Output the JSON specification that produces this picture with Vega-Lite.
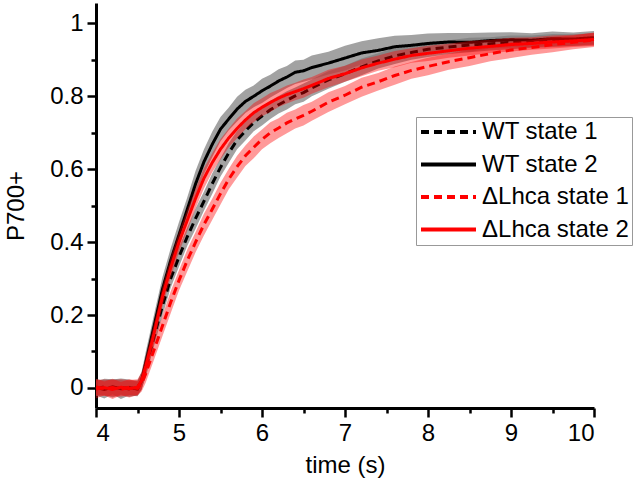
{
  "$schema": "https://vega.github.io/schema/vega-lite/v6.json",
  "width": 498,
  "height": 405,
  "autosize": {"type": "none"},
  "padding": {"left": 96, "top": 3, "right": 44, "bottom": 82},
  "background": "white",
  "config": {
    "view": {"stroke": null},
    "font": "Liberation Sans",
    "axis": {
      "domainColor": "black",
      "domainWidth": 3,
      "tickColor": "black",
      "tickWidth": 2.5,
      "labelColor": "black",
      "labelFont": "Liberation Sans",
      "labelFontSize": 24,
      "titleFont": "Liberation Sans",
      "titleFontSize": 24,
      "titleFontWeight": "normal",
      "titleColor": "black",
      "grid": false,
      "labelOverlap": false
    }
  },
  "data": {
    "values": [
      {"s": "WT state 2", "t": 4.0, "v": 0.002, "e": 0.022},
      {"s": "WT state 2", "t": 4.1, "v": -0.004, "e": 0.025},
      {"s": "WT state 2", "t": 4.2, "v": 0.003, "e": 0.02},
      {"s": "WT state 2", "t": 4.3, "v": -0.002, "e": 0.028},
      {"s": "WT state 2", "t": 4.4, "v": 0.001, "e": 0.022},
      {"s": "WT state 2", "t": 4.5, "v": -0.003, "e": 0.02},
      {"s": "WT state 2", "t": 4.55, "v": 0.02, "e": 0.025},
      {"s": "WT state 2", "t": 4.6, "v": 0.07, "e": 0.03},
      {"s": "WT state 2", "t": 4.7, "v": 0.17, "e": 0.032},
      {"s": "WT state 2", "t": 4.8, "v": 0.27, "e": 0.034},
      {"s": "WT state 2", "t": 4.9, "v": 0.35, "e": 0.033},
      {"s": "WT state 2", "t": 5.0, "v": 0.42, "e": 0.035},
      {"s": "WT state 2", "t": 5.1, "v": 0.49, "e": 0.033},
      {"s": "WT state 2", "t": 5.2, "v": 0.56, "e": 0.036},
      {"s": "WT state 2", "t": 5.3, "v": 0.62, "e": 0.034},
      {"s": "WT state 2", "t": 5.4, "v": 0.668, "e": 0.035},
      {"s": "WT state 2", "t": 5.5, "v": 0.71, "e": 0.033},
      {"s": "WT state 2", "t": 5.6, "v": 0.738, "e": 0.031},
      {"s": "WT state 2", "t": 5.7, "v": 0.765, "e": 0.034},
      {"s": "WT state 2", "t": 5.8, "v": 0.786, "e": 0.032},
      {"s": "WT state 2", "t": 5.9, "v": 0.8, "e": 0.03},
      {"s": "WT state 2", "t": 6.0, "v": 0.815, "e": 0.033},
      {"s": "WT state 2", "t": 6.1, "v": 0.828, "e": 0.031},
      {"s": "WT state 2", "t": 6.2, "v": 0.842, "e": 0.032},
      {"s": "WT state 2", "t": 6.3, "v": 0.853, "e": 0.03},
      {"s": "WT state 2", "t": 6.4, "v": 0.866, "e": 0.032},
      {"s": "WT state 2", "t": 6.5, "v": 0.87, "e": 0.03},
      {"s": "WT state 2", "t": 6.6, "v": 0.879, "e": 0.033},
      {"s": "WT state 2", "t": 6.8, "v": 0.891, "e": 0.031},
      {"s": "WT state 2", "t": 7.0, "v": 0.905, "e": 0.034},
      {"s": "WT state 2", "t": 7.2, "v": 0.919, "e": 0.032},
      {"s": "WT state 2", "t": 7.4, "v": 0.926, "e": 0.033},
      {"s": "WT state 2", "t": 7.6, "v": 0.936, "e": 0.03},
      {"s": "WT state 2", "t": 7.8, "v": 0.94, "e": 0.028},
      {"s": "WT state 2", "t": 8.0, "v": 0.945, "e": 0.027},
      {"s": "WT state 2", "t": 8.25, "v": 0.949, "e": 0.025},
      {"s": "WT state 2", "t": 8.5, "v": 0.948, "e": 0.026},
      {"s": "WT state 2", "t": 8.75, "v": 0.953, "e": 0.022},
      {"s": "WT state 2", "t": 9.0, "v": 0.955, "e": 0.021},
      {"s": "WT state 2", "t": 9.25, "v": 0.954, "e": 0.019},
      {"s": "WT state 2", "t": 9.5, "v": 0.958, "e": 0.02},
      {"s": "WT state 2", "t": 9.75, "v": 0.957, "e": 0.018},
      {"s": "WT state 2", "t": 10.0, "v": 0.961, "e": 0.018},

      {"s": "WT state 1", "t": 4.0, "v": -0.002, "e": 0.02},
      {"s": "WT state 1", "t": 4.1, "v": 0.003, "e": 0.022},
      {"s": "WT state 1", "t": 4.2, "v": -0.001, "e": 0.025},
      {"s": "WT state 1", "t": 4.3, "v": 0.002, "e": 0.02},
      {"s": "WT state 1", "t": 4.4, "v": -0.003, "e": 0.022},
      {"s": "WT state 1", "t": 4.5, "v": 0.001, "e": 0.02},
      {"s": "WT state 1", "t": 4.55, "v": 0.02, "e": 0.022},
      {"s": "WT state 1", "t": 4.6, "v": 0.055, "e": 0.025},
      {"s": "WT state 1", "t": 4.7, "v": 0.14, "e": 0.025},
      {"s": "WT state 1", "t": 4.8, "v": 0.225, "e": 0.027},
      {"s": "WT state 1", "t": 4.9, "v": 0.3, "e": 0.025},
      {"s": "WT state 1", "t": 5.0, "v": 0.36, "e": 0.027},
      {"s": "WT state 1", "t": 5.1, "v": 0.415, "e": 0.025},
      {"s": "WT state 1", "t": 5.2, "v": 0.465, "e": 0.028},
      {"s": "WT state 1", "t": 5.3, "v": 0.512, "e": 0.026},
      {"s": "WT state 1", "t": 5.4, "v": 0.56, "e": 0.028},
      {"s": "WT state 1", "t": 5.5, "v": 0.605, "e": 0.025},
      {"s": "WT state 1", "t": 5.6, "v": 0.645, "e": 0.027},
      {"s": "WT state 1", "t": 5.7, "v": 0.68, "e": 0.025},
      {"s": "WT state 1", "t": 5.8, "v": 0.705, "e": 0.026},
      {"s": "WT state 1", "t": 5.9, "v": 0.728, "e": 0.024},
      {"s": "WT state 1", "t": 6.0, "v": 0.746, "e": 0.026},
      {"s": "WT state 1", "t": 6.1, "v": 0.763, "e": 0.025},
      {"s": "WT state 1", "t": 6.2, "v": 0.777, "e": 0.024},
      {"s": "WT state 1", "t": 6.3, "v": 0.789, "e": 0.025},
      {"s": "WT state 1", "t": 6.4, "v": 0.801, "e": 0.023},
      {"s": "WT state 1", "t": 6.5, "v": 0.81, "e": 0.025},
      {"s": "WT state 1", "t": 6.6, "v": 0.823, "e": 0.023},
      {"s": "WT state 1", "t": 6.8, "v": 0.845, "e": 0.024},
      {"s": "WT state 1", "t": 7.0, "v": 0.862, "e": 0.022},
      {"s": "WT state 1", "t": 7.2, "v": 0.881, "e": 0.023},
      {"s": "WT state 1", "t": 7.4, "v": 0.897, "e": 0.021},
      {"s": "WT state 1", "t": 7.6, "v": 0.911, "e": 0.022},
      {"s": "WT state 1", "t": 7.8, "v": 0.92, "e": 0.02},
      {"s": "WT state 1", "t": 8.0, "v": 0.929, "e": 0.021},
      {"s": "WT state 1", "t": 8.25, "v": 0.935, "e": 0.019},
      {"s": "WT state 1", "t": 8.5, "v": 0.941, "e": 0.02},
      {"s": "WT state 1", "t": 8.75, "v": 0.944, "e": 0.018},
      {"s": "WT state 1", "t": 9.0, "v": 0.948, "e": 0.019},
      {"s": "WT state 1", "t": 9.25, "v": 0.95, "e": 0.017},
      {"s": "WT state 1", "t": 9.5, "v": 0.953, "e": 0.018},
      {"s": "WT state 1", "t": 9.75, "v": 0.954, "e": 0.016},
      {"s": "WT state 1", "t": 10.0, "v": 0.957, "e": 0.017},

      {"s": "ΔLhca state 1", "t": 4.0, "v": 0.003, "e": 0.022},
      {"s": "ΔLhca state 1", "t": 4.1, "v": -0.002, "e": 0.02},
      {"s": "ΔLhca state 1", "t": 4.2, "v": 0.001, "e": 0.024},
      {"s": "ΔLhca state 1", "t": 4.3, "v": -0.004, "e": 0.02},
      {"s": "ΔLhca state 1", "t": 4.4, "v": 0.002, "e": 0.022},
      {"s": "ΔLhca state 1", "t": 4.5, "v": -0.001, "e": 0.02},
      {"s": "ΔLhca state 1", "t": 4.55, "v": 0.012, "e": 0.022},
      {"s": "ΔLhca state 1", "t": 4.6, "v": 0.04, "e": 0.025},
      {"s": "ΔLhca state 1", "t": 4.7, "v": 0.105, "e": 0.027},
      {"s": "ΔLhca state 1", "t": 4.8, "v": 0.17, "e": 0.028},
      {"s": "ΔLhca state 1", "t": 4.9, "v": 0.235, "e": 0.03},
      {"s": "ΔLhca state 1", "t": 5.0, "v": 0.295, "e": 0.028},
      {"s": "ΔLhca state 1", "t": 5.1, "v": 0.35, "e": 0.03},
      {"s": "ΔLhca state 1", "t": 5.2, "v": 0.4, "e": 0.028},
      {"s": "ΔLhca state 1", "t": 5.3, "v": 0.448, "e": 0.03},
      {"s": "ΔLhca state 1", "t": 5.4, "v": 0.49, "e": 0.029},
      {"s": "ΔLhca state 1", "t": 5.5, "v": 0.533, "e": 0.03},
      {"s": "ΔLhca state 1", "t": 5.6, "v": 0.573, "e": 0.028},
      {"s": "ΔLhca state 1", "t": 5.7, "v": 0.607, "e": 0.03},
      {"s": "ΔLhca state 1", "t": 5.8, "v": 0.637, "e": 0.028},
      {"s": "ΔLhca state 1", "t": 5.9, "v": 0.66, "e": 0.03},
      {"s": "ΔLhca state 1", "t": 6.0, "v": 0.682, "e": 0.027},
      {"s": "ΔLhca state 1", "t": 6.1, "v": 0.7, "e": 0.029},
      {"s": "ΔLhca state 1", "t": 6.2, "v": 0.713, "e": 0.027},
      {"s": "ΔLhca state 1", "t": 6.3, "v": 0.727, "e": 0.028},
      {"s": "ΔLhca state 1", "t": 6.4, "v": 0.738, "e": 0.026},
      {"s": "ΔLhca state 1", "t": 6.5, "v": 0.748, "e": 0.028},
      {"s": "ΔLhca state 1", "t": 6.6, "v": 0.759, "e": 0.026},
      {"s": "ΔLhca state 1", "t": 6.8, "v": 0.784, "e": 0.027},
      {"s": "ΔLhca state 1", "t": 7.0, "v": 0.803, "e": 0.025},
      {"s": "ΔLhca state 1", "t": 7.2, "v": 0.825, "e": 0.026},
      {"s": "ΔLhca state 1", "t": 7.4, "v": 0.84, "e": 0.024},
      {"s": "ΔLhca state 1", "t": 7.6, "v": 0.857, "e": 0.025},
      {"s": "ΔLhca state 1", "t": 7.8, "v": 0.871, "e": 0.023},
      {"s": "ΔLhca state 1", "t": 8.0, "v": 0.882, "e": 0.024},
      {"s": "ΔLhca state 1", "t": 8.25, "v": 0.895, "e": 0.022},
      {"s": "ΔLhca state 1", "t": 8.5, "v": 0.906, "e": 0.023},
      {"s": "ΔLhca state 1", "t": 8.75, "v": 0.917, "e": 0.021},
      {"s": "ΔLhca state 1", "t": 9.0, "v": 0.927, "e": 0.022},
      {"s": "ΔLhca state 1", "t": 9.25, "v": 0.934, "e": 0.02},
      {"s": "ΔLhca state 1", "t": 9.5, "v": 0.942, "e": 0.021},
      {"s": "ΔLhca state 1", "t": 9.75, "v": 0.948, "e": 0.019},
      {"s": "ΔLhca state 1", "t": 10.0, "v": 0.955, "e": 0.02},

      {"s": "ΔLhca state 2", "t": 4.0, "v": -0.003, "e": 0.025},
      {"s": "ΔLhca state 2", "t": 4.1, "v": 0.001, "e": 0.022},
      {"s": "ΔLhca state 2", "t": 4.2, "v": -0.004, "e": 0.026},
      {"s": "ΔLhca state 2", "t": 4.3, "v": 0.002, "e": 0.022},
      {"s": "ΔLhca state 2", "t": 4.4, "v": -0.002, "e": 0.024},
      {"s": "ΔLhca state 2", "t": 4.5, "v": 0.002, "e": 0.022},
      {"s": "ΔLhca state 2", "t": 4.55, "v": 0.02, "e": 0.024},
      {"s": "ΔLhca state 2", "t": 4.6, "v": 0.06, "e": 0.026},
      {"s": "ΔLhca state 2", "t": 4.7, "v": 0.15, "e": 0.028},
      {"s": "ΔLhca state 2", "t": 4.8, "v": 0.25, "e": 0.027},
      {"s": "ΔLhca state 2", "t": 4.9, "v": 0.33, "e": 0.028},
      {"s": "ΔLhca state 2", "t": 5.0, "v": 0.4, "e": 0.027},
      {"s": "ΔLhca state 2", "t": 5.1, "v": 0.46, "e": 0.029},
      {"s": "ΔLhca state 2", "t": 5.2, "v": 0.52, "e": 0.027},
      {"s": "ΔLhca state 2", "t": 5.3, "v": 0.575, "e": 0.028},
      {"s": "ΔLhca state 2", "t": 5.4, "v": 0.618, "e": 0.026},
      {"s": "ΔLhca state 2", "t": 5.5, "v": 0.655, "e": 0.028},
      {"s": "ΔLhca state 2", "t": 5.6, "v": 0.686, "e": 0.026},
      {"s": "ΔLhca state 2", "t": 5.7, "v": 0.712, "e": 0.027},
      {"s": "ΔLhca state 2", "t": 5.8, "v": 0.735, "e": 0.025},
      {"s": "ΔLhca state 2", "t": 5.9, "v": 0.755, "e": 0.026},
      {"s": "ΔLhca state 2", "t": 6.0, "v": 0.77, "e": 0.025},
      {"s": "ΔLhca state 2", "t": 6.1, "v": 0.783, "e": 0.026},
      {"s": "ΔLhca state 2", "t": 6.2, "v": 0.795, "e": 0.024},
      {"s": "ΔLhca state 2", "t": 6.3, "v": 0.805, "e": 0.025},
      {"s": "ΔLhca state 2", "t": 6.4, "v": 0.813, "e": 0.024},
      {"s": "ΔLhca state 2", "t": 6.5, "v": 0.821, "e": 0.025},
      {"s": "ΔLhca state 2", "t": 6.6, "v": 0.83, "e": 0.023},
      {"s": "ΔLhca state 2", "t": 6.8, "v": 0.849, "e": 0.024},
      {"s": "ΔLhca state 2", "t": 7.0, "v": 0.862, "e": 0.022},
      {"s": "ΔLhca state 2", "t": 7.2, "v": 0.878, "e": 0.023},
      {"s": "ΔLhca state 2", "t": 7.4, "v": 0.891, "e": 0.021},
      {"s": "ΔLhca state 2", "t": 7.6, "v": 0.902, "e": 0.022},
      {"s": "ΔLhca state 2", "t": 7.8, "v": 0.912, "e": 0.02},
      {"s": "ΔLhca state 2", "t": 8.0, "v": 0.918, "e": 0.021},
      {"s": "ΔLhca state 2", "t": 8.25, "v": 0.925, "e": 0.019},
      {"s": "ΔLhca state 2", "t": 8.5, "v": 0.932, "e": 0.02},
      {"s": "ΔLhca state 2", "t": 8.75, "v": 0.937, "e": 0.018},
      {"s": "ΔLhca state 2", "t": 9.0, "v": 0.942, "e": 0.019},
      {"s": "ΔLhca state 2", "t": 9.25, "v": 0.945, "e": 0.017},
      {"s": "ΔLhca state 2", "t": 9.5, "v": 0.949, "e": 0.018},
      {"s": "ΔLhca state 2", "t": 9.75, "v": 0.952, "e": 0.017},
      {"s": "ΔLhca state 2", "t": 10.0, "v": 0.956, "e": 0.018}
    ]
  },
  "encoding": {
    "x": {
      "field": "t",
      "type": "quantitative",
      "scale": {"domain": [4, 10], "nice": false, "zero": false},
      "axis": {
        "title": "time (s)",
        "values": [4, 4.5, 5, 5.5, 6, 6.5, 7, 7.5, 8, 8.5, 9, 9.5, 10],
        "labelExpr": "datum.value % 1 === 0 ? format(datum.value, '~g') : ''",
        "tickSize": {"condition": {"test": "datum.value % 1 === 0", "value": 9}, "value": 5},
        "labelPadding": 4,
        "titlePadding": 8
      }
    },
    "y": {
      "field": "v",
      "type": "quantitative",
      "scale": {"domain": [-0.055, 1.056], "nice": false, "zero": false},
      "axis": {
        "title": "P700+",
        "values": [0, 0.1, 0.2, 0.3, 0.4, 0.5, 0.6, 0.7, 0.8, 0.9, 1],
        "labelExpr": "round(datum.value * 10) % 2 === 0 ? format(datum.value, '~g') : ''",
        "tickSize": {"condition": {"test": "round(datum.value * 10) % 2 === 0", "value": 9}, "value": 5},
        "labelPadding": 4,
        "titlePadding": 21
      }
    }
  },
  "layer": [
    {
      "transform": [{"filter": {"field": "s", "oneOf": ["WT state 1", "WT state 2"]}}],
      "mark": {"type": "errorband", "color": "#7a7a7a", "opacity": 0.7},
      "encoding": {"yError": {"field": "e"}, "detail": {"field": "s"}}
    },
    {
      "transform": [{"filter": {"field": "s", "oneOf": ["WT state 1", "WT state 2"]}}],
      "mark": {"type": "line", "strokeWidth": 3, "strokeCap": "butt"},
      "encoding": {
        "color": {
          "field": "s", "type": "nominal",
          "scale": {"domain": ["WT state 1", "WT state 2", "ΔLhca state 1", "ΔLhca state 2"], "range": ["#000000", "#000000", "#ff0000", "#ff0000"]},
          "legend": {"orient": "none", "legendX": 320, "legendY": 114, "title": null, "labelFontSize": 24, "labelFont": "Liberation Sans", "labelColor": "black", "symbolSize": 3025, "symbolStrokeWidth": 4, "symbolType": "stroke", "clipHeight": 24, "rowPadding": 8.5, "padding": 3, "labelOffset": 4, "strokeColor": "#999999", "fillColor": "white", "labelLimit": 0}
        },
        "strokeDash": {
          "field": "s", "type": "nominal",
          "scale": {"domain": ["WT state 1", "WT state 2", "ΔLhca state 1", "ΔLhca state 2"], "range": [[8, 5], [1, 0], [8, 5], [1, 0]]},
          "legend": {"orient": "none", "legendX": 320, "legendY": 114, "title": null, "labelFontSize": 24, "labelFont": "Liberation Sans", "labelColor": "black", "symbolSize": 3025, "symbolStrokeWidth": 4, "symbolType": "stroke", "clipHeight": 24, "rowPadding": 8.5, "padding": 3, "labelOffset": 4, "strokeColor": "#999999", "fillColor": "white", "labelLimit": 0}
        }
      }
    },
    {
      "transform": [{"filter": {"field": "s", "oneOf": ["ΔLhca state 1", "ΔLhca state 2"]}}],
      "mark": {"type": "errorband", "color": "#ff0000", "opacity": 0.4},
      "encoding": {"yError": {"field": "e"}, "detail": {"field": "s"}}
    },
    {
      "transform": [{"filter": {"field": "s", "oneOf": ["ΔLhca state 1", "ΔLhca state 2"]}}],
      "mark": {"type": "line", "strokeWidth": 3, "strokeCap": "butt"},
      "encoding": {
        "color": {"field": "s", "type": "nominal"},
        "strokeDash": {"field": "s", "type": "nominal"}
      }
    }
  ]
}
